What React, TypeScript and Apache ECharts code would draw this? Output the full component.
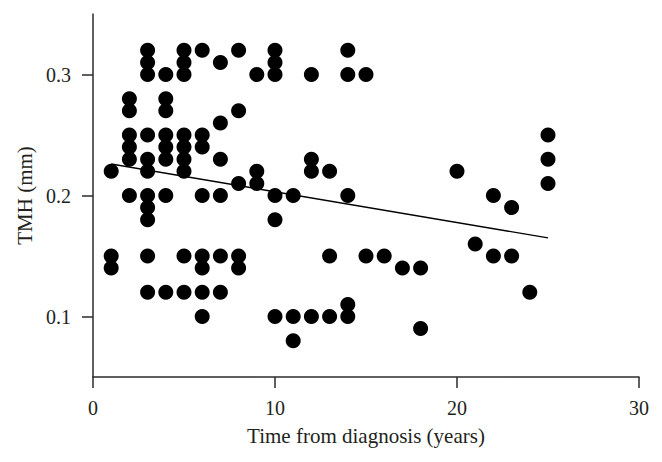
import React, { useEffect, useRef } from "react";
import * as echarts from "echarts";

// Time from diagnosis (years) and TMH (mm)
const years: number[] = [
  1, 1, 1,
  2, 2, 2, 2, 2, 2,
  3, 3, 3, 3, 3, 3, 3, 3, 3, 3, 3,
  4, 4, 4, 4, 4, 4, 4, 4,
  5, 5, 5, 5, 5, 5, 5, 5, 5,
  6, 6, 6, 6, 6, 6, 6, 6,
  7, 7, 7, 7, 7, 7,
  8, 8, 8, 8, 8,
  9, 9, 9,
  10, 10, 10, 10, 10, 10,
  11, 11, 11,
  12, 12, 12, 12,
  13, 13, 13,
  14, 14, 14, 14, 14,
  15, 15,
  16,
  17,
  18, 18,
  20,
  21,
  22, 22,
  23, 23,
  24,
  25, 25, 25,
];
const tmh: number[] = [
  0.22, 0.15, 0.14,
  0.28, 0.27, 0.25, 0.24, 0.23, 0.2,
  0.32, 0.31, 0.3, 0.25, 0.23, 0.22, 0.2, 0.19, 0.18, 0.15, 0.12,
  0.3, 0.28, 0.27, 0.25, 0.24, 0.23, 0.2, 0.12,
  0.32, 0.31, 0.3, 0.25, 0.24, 0.23, 0.22, 0.15, 0.12,
  0.32, 0.25, 0.24, 0.2, 0.15, 0.14, 0.12, 0.1,
  0.31, 0.26, 0.23, 0.2, 0.15, 0.12,
  0.32, 0.27, 0.21, 0.15, 0.14,
  0.3, 0.22, 0.21,
  0.32, 0.31, 0.3, 0.2, 0.18, 0.1,
  0.2, 0.1, 0.08,
  0.3, 0.23, 0.22, 0.1,
  0.22, 0.15, 0.1,
  0.32, 0.3, 0.2, 0.11, 0.1,
  0.3, 0.15,
  0.15,
  0.14,
  0.14, 0.09,
  0.22,
  0.16,
  0.2, 0.15,
  0.19, 0.15,
  0.12,
  0.25, 0.23, 0.21,
];

// Fitted line end points
const trendX: number[] = [1, 25];
const trendY: number[] = [0.226, 0.165];

const yTickValues: number[] = [0.1, 0.2, 0.3];
const xTickValues: number[] = [0, 10, 20, 30];

const FONT = "'Liberation Serif', 'DejaVu Serif', serif";
const AXIS_COLOR = "#2b2b2b";

export default function App() {
  const ref = useRef<HTMLDivElement>(null);

  useEffect(() => {
    if (!ref.current) return;
    const chart = echarts.init(ref.current, null, { renderer: "svg" });
    const points = years.map((x, i) => [x, tmh[i]]);
    const trend = trendX.map((x, i) => [x, trendY[i]]);

    chart.setOption({
      animation: false,
      backgroundColor: "#ffffff",
      grid: { left: 93, right: 23, top: 14, bottom: 85, containLabel: false },
      xAxis: {
        type: "value",
        min: 0,
        max: 30,
        interval: 10,
        name: "Time from diagnosis (years)",
        nameLocation: "middle",
        nameGap: 48,
        nameTextStyle: { fontFamily: FONT, fontSize: 21, color: "#231f20" },
        axisLine: { show: true, lineStyle: { color: AXIS_COLOR, width: 1.5 } },
        axisTick: {
          show: true,
          inside: false,
          length: 11,
          customValues: xTickValues,
          lineStyle: { color: AXIS_COLOR, width: 1.5 },
        },
        axisLabel: {
          customValues: xTickValues,
          fontFamily: FONT,
          fontSize: 20,
          color: "#231f20",
          margin: 21,
        },
        splitLine: { show: false },
      },
      yAxis: {
        type: "value",
        min: 0.05,
        max: 0.35,
        interval: 0.05,
        name: "TMH (mm)",
        nameLocation: "middle",
        nameGap: 56,
        nameRotate: 90,
        nameTextStyle: { fontFamily: FONT, fontSize: 21, color: "#231f20" },
        axisLine: { show: true, lineStyle: { color: AXIS_COLOR, width: 1.5 } },
        axisTick: {
          show: true,
          inside: false,
          length: 11,
          customValues: yTickValues,
          lineStyle: { color: AXIS_COLOR, width: 1.5 },
        },
        axisLabel: {
          customValues: yTickValues,
          formatter: (v: number) => v.toFixed(1),
          fontFamily: FONT,
          fontSize: 20,
          color: "#231f20",
          margin: 22,
        },
        splitLine: { show: false },
      },
      series: [
        {
          type: "scatter",
          data: points,
          symbol: "circle",
          symbolSize: 15,
          itemStyle: { color: "#000000", opacity: 1 },
          z: 2,
        },
        {
          type: "line",
          data: trend,
          symbol: "none",
          lineStyle: { color: "#000000", width: 1.4 },
          z: 3,
        },
      ],
    });

    return () => chart.dispose();
  }, []);

  return (
    <div
      ref={ref}
      style={{ position: "fixed", left: 0, top: 0, width: 662, height: 462, background: "#fff" }}
    />
  );
}
